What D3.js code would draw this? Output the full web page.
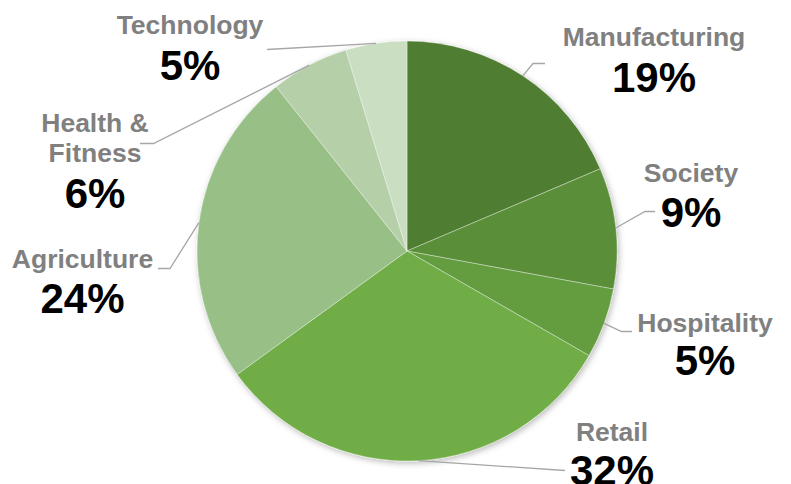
<!DOCTYPE html>
<html>
<head>
<meta charset="utf-8">
<script src="https://cdn.jsdelivr.net/npm/d3@7"></script>
<style>
  html, body { margin: 0; padding: 0; background: #ffffff; }
  svg { display: block; }
</style>
</head>
<body>
<svg id="chart" width="791" height="484"></svg>
<script>
// ---- data ----
const categories = ["Manufacturing", "Society", "Hospitality", "Retail", "Agriculture", "Health & Fitness", "Technology"];
const values = [18.6, 9.3, 5.4, 31.7, 24.3, 6.0, 4.7];
const colors = ["#507e32", "#5a8e39", "#649d41", "#70ad47", "#97bf86", "#b5cfa8", "#cadec2"];
// label lines (category name can wrap)
const nameLines = [["Manufacturing"], ["Society"], ["Hospitality"], ["Retail"], ["Agriculture"], ["Health &", "Fitness"], ["Technology"]];

// ---- layout ----
const W = 791, H = 484;
const cx = 407, cy = 251, R = 210;
// label anchor (text centre x, name first baseline y, percent baseline y) and leader elbow points
const labelLayout = [
  { x: 654, nameY: 46,  pctY: 92,  elbow: [[533, 63.5], [545, 63.5]] },
  { x: 691, nameY: 182, pctY: 227, elbow: [[645, 211.5], [655, 211.5]] },
  { x: 705, nameY: 332, pctY: 375, elbow: [[621.5, 331.5], [632, 331.5]] },
  { x: 612, nameY: 441, pctY: 485, elbow: [[565, 470.5]] },
  { x: 82.5, nameY: 268, pctY: 313, elbow: [[170, 268.5], [158, 268.5]] },
  { x: 95,  nameY: 132, pctY: 208, elbow: [[153.5, 143.5], [140, 143.5]] },
  { x: 190, nameY: 34,  pctY: 80,  elbow: [[267, 49.5]] }
];

const svg = d3.select("#chart");

const defs = svg.append("defs");
const f = defs.append("filter").attr("id", "shadow")
  .attr("x", "-10%").attr("y", "-10%").attr("width", "120%").attr("height", "120%");
f.append("feDropShadow").attr("dx", 1.5).attr("dy", 2).attr("stdDeviation", 3)
  .attr("flood-color", "#000").attr("flood-opacity", 0.28);

const pie = d3.pie().sort(null).value(d => d.value);
const data = categories.map((c, i) => ({ name: c, value: values[i], color: colors[i], lines: nameLines[i], layout: labelLayout[i] }));
const arcs = pie(data);

const total = d3.sum(values);
const arc = d3.arc().innerRadius(0).outerRadius(R);

const g = svg.append("g").attr("transform", `translate(${cx},${cy})`);

g.append("g").attr("filter", "url(#shadow)")
  .selectAll("path").data(arcs).join("path")
  .attr("d", arc)
  .attr("fill", d => d.data.color)
  .attr("stroke", "#ffffff")
  .attr("stroke-opacity", 0.45)
  .attr("stroke-width", 0.8);

// leader lines
const line = d3.line();
svg.append("g").selectAll("path").data(arcs).join("path")
  .attr("d", d => {
    const a = (d.startAngle + d.endAngle) / 2;
    const p0 = [cx + R * Math.sin(a), cy - R * Math.cos(a)];
    return line([p0, ...d.data.layout.elbow]);
  })
  .attr("fill", "none")
  .attr("stroke", "#a6a6a6")
  .attr("stroke-width", 1.3);

// labels
const lab = svg.append("g").selectAll("g").data(arcs).join("g");
lab.each(function(d) {
  const sel = d3.select(this);
  const L = d.data.layout;
  d.data.lines.forEach((t, k) => {
    sel.append("text")
      .attr("x", L.x).attr("y", L.nameY + k * 30)
      .attr("text-anchor", "middle")
      .attr("font-family", "'Liberation Sans', Arial, sans-serif")
      .attr("font-weight", "bold")
      .attr("font-size", 26.5)
      .attr("fill", "#808080")
      .text(t);
  });
  sel.append("text")
    .attr("x", L.x).attr("y", L.pctY)
    .attr("text-anchor", "middle")
    .attr("font-family", "'Liberation Sans', Arial, sans-serif")
    .attr("font-weight", "bold")
    .attr("font-size", 42)
    .attr("fill", "#000000")
    .text(Math.round(d.data.value / total * 100) + "%");
});
</script>
</body>
</html>
